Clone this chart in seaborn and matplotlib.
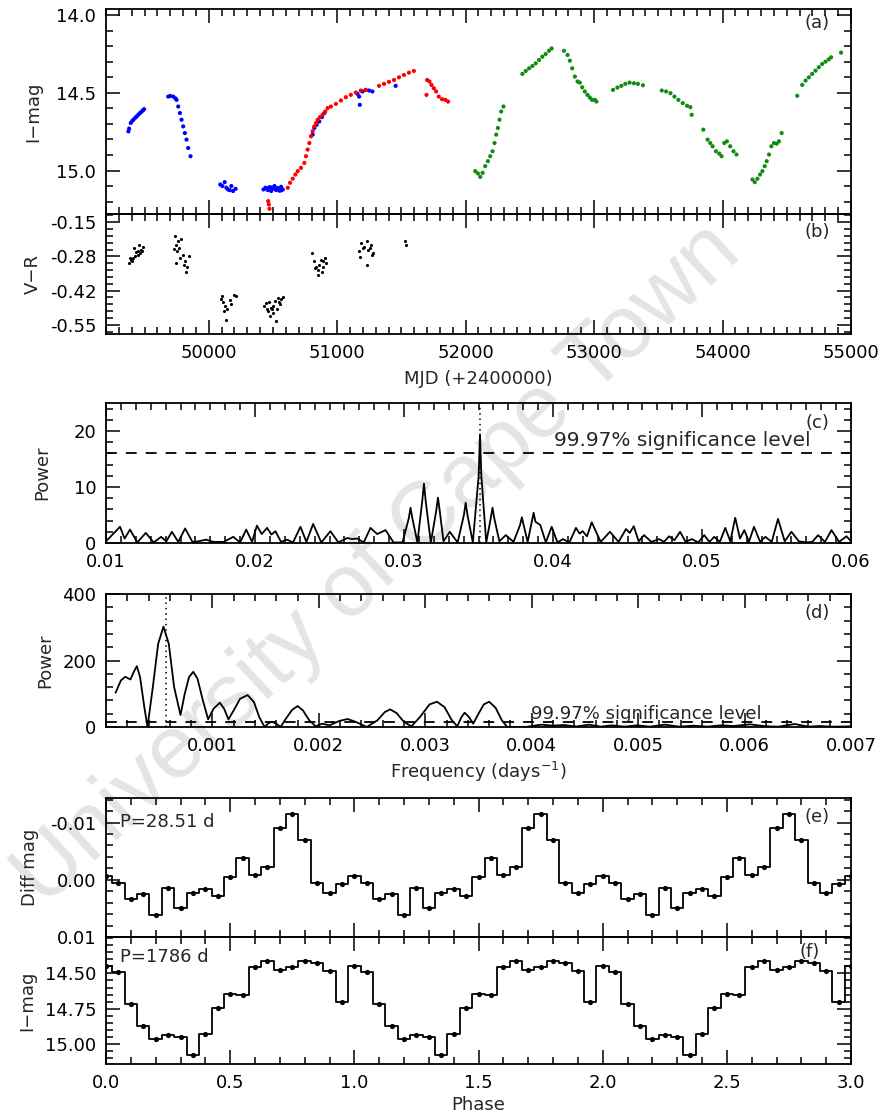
import numpy as np
import pandas as pd
import matplotlib
matplotlib.use("Agg")
import matplotlib.pyplot as plt
import seaborn as sns
from matplotlib.ticker import MultipleLocator, AutoMinorLocator, FixedLocator, FuncFormatter

sns.set_theme(style="white")
plt.rcParams['font.family'] = ['DejaVu Sans']
plt.rcParams['mathtext.fontset'] = 'dejavusans'

# ---------------- (a) I-band light curve ----------------
blue_mjd = [49374.6, 49392.7, 49413.4, 49439.2, 49465.1, 49496.1, 49380, 49405, 49428, 49452, 49478, 49488,
            49684.7, 49723.5, 49749.3, 49762.2, 49775.2, 49788.1, 49801.0, 49813.9, 49826.9, 49839.8, 49857.9, 49700, 49740,
            50090, 50106, 50124, 50137, 50150, 50163, 50176, 50189, 50209,
            50426.3, 50441.8, 50459.9, 50472.8, 50485.8, 50498.7, 50511.6, 50524.5, 50537.4, 50550.4, 50563.3, 50576.2,
            50450, 50490, 50530, 50565,
            50808.9, 50821.8, 50839.9, 50860.6, 50881.3, 50899.4, 51157.8, 51170.7, 51175.9, 51196.6, 51222.4,
            51248.2, 51274.1, 51454.9]
blue_mag = [14.748, 14.694, 14.673, 14.652, 14.630, 14.605, 14.730, 14.680, 14.660, 14.640, 14.620, 14.612,
            14.524, 14.524, 14.545, 14.588, 14.630, 14.673, 14.716, 14.759, 14.801, 14.855, 14.908, 14.520, 14.535,
            15.090, 15.100, 15.075, 15.111, 15.122, 15.126, 15.100, 15.132, 15.118,
            15.122, 15.111, 15.126, 15.107, 15.132, 15.118, 15.100, 15.126, 15.113, 15.130, 15.105, 15.122,
            15.115, 15.110, 15.118, 15.128,
            14.769, 14.726, 14.705, 14.684, 14.656, 14.630, 14.506, 14.524, 14.577, 14.491, 14.481,
            14.485, 14.491, 14.455]

red_mjd = [50462.5, 50467.7, 50472.8,
           50615.0, 50633.1, 50653.8, 50674.5, 50692.6, 50718.4, 50744.2, 50757.2, 50770.1, 50783.0, 50796.0,
           50808.9, 50821.8, 50834.8, 50847.7, 50865.8, 50886.5, 50907.2, 50925.2,
           50951.0, 50989.8, 51028.6, 51067.4, 51106.1, 51144.9, 51183.6, 51222.4,
           51325.8, 51364.5, 51403.3, 51442.0, 51480.8, 51519.6, 51558.4, 51597.1,
           51695.1, 51700.2, 51718.3, 51733.8, 51751.9, 51770.0, 51790.7, 51816.5, 51842.4, 51863.0]
red_mag = [15.197, 15.218, 15.246,
           15.111, 15.079, 15.053, 15.026, 15.004, 14.983, 14.951, 14.908, 14.865, 14.823, 14.780,
           14.748, 14.716, 14.694, 14.673, 14.656, 14.641, 14.620, 14.598,
           14.588, 14.571, 14.549, 14.528, 14.513, 14.498, 14.485, 14.481,
           14.455, 14.442, 14.429, 14.417, 14.400, 14.385, 14.370, 14.359,
           14.513, 14.417, 14.427, 14.449, 14.470, 14.491, 14.524, 14.541, 14.545, 14.556]

green_mjd = [52075.0, 52095.6, 52113.7, 52131.8, 52152.5, 52173.1, 52191.2, 52209.3, 52224.8, 52237.7, 52250.7, 52263.6, 52276.5, 52294.6,
             52441.9, 52467.7, 52493.5, 52519.4, 52545.2, 52571.1, 52596.9, 52622.7, 52648.6, 52669.3,
             52764.9, 52793.3, 52811.4, 52829.5, 52850.2, 52870.8, 52888.9, 52907.0, 52927.7, 52948.3, 52966.4, 52984.5, 53005.2, 53018.1,
             53147.3, 53180.9, 53211.9, 53242.9, 53276.5, 53310.1, 53341.1, 53379.9,
             53527.1, 53560.7, 53594.3, 53625.4, 53656.4, 53690.0, 53723.5, 53749.4, 53759.7,
             53850.2, 53883.7, 53904.4, 53922.5, 53948.3, 53974.2, 53992.3, 54012.9, 54033.6, 54059.5, 54085.3, 54108.6,
             54232.6, 54250.7, 54271.4, 54292.0, 54310.1, 54328.2, 54343.7, 54361.8, 54379.9, 54400.6, 54421.3, 54439.4, 54460.0,
             54581.4, 54620.2, 54646.0, 54671.9, 54697.7, 54723.5, 54749.4, 54775.2, 54801.0, 54826.9, 54845.0, 54922.5]
green_mag = [15.004, 15.019, 15.041, 15.015, 14.972, 14.940, 14.908, 14.876, 14.823, 14.769, 14.726, 14.673, 14.620, 14.588,
             14.378, 14.359, 14.342, 14.327, 14.310, 14.288, 14.267, 14.250, 14.229, 14.214,
             14.229, 14.256, 14.293, 14.342, 14.395, 14.427, 14.434, 14.464, 14.491, 14.513, 14.530, 14.545, 14.545, 14.556,
             14.481, 14.466, 14.455, 14.442, 14.434, 14.438, 14.442, 14.451,
             14.485, 14.491, 14.502, 14.524, 14.545, 14.566, 14.583, 14.592, 14.641,
             14.737, 14.801, 14.823, 14.844, 14.876, 14.891, 14.908, 14.823, 14.812, 14.844, 14.876, 14.897,
             15.058, 15.075, 15.053, 15.026, 15.004, 14.972, 14.940, 14.897, 14.844, 14.823, 14.827, 14.812, 14.759,
             14.519, 14.449, 14.421, 14.400, 14.378, 14.357, 14.335, 14.314, 14.299, 14.284, 14.271, 14.241]

# ---------------- (b) V-R colour ----------------
vr_mjd = [49376.2, 49393.6, 49411.1, 49428.6, 49446.1, 49463.6, 49481.0, 49419.9, 49454.8, 49472.3, 49402.4, 49437.3, 49489.8, 49384.9, 49450.5,
          49734.5, 49786.9, 49743.2, 49769.5, 49756.4, 49800.1, 49778.2, 49813.2, 49830.6, 49821.9, 49743.2, 49725.8, 49843.7, 49760.7, 49804.4,
          50092.8, 50110.3, 50127.8, 50145.3, 50105.9, 50162.8, 50193.4, 50215.2, 50119.1, 50136.5, 50171.5,
          50433.7, 50455.6, 50468.7, 50486.2, 50499.3, 50512.4, 50529.8, 50542.9, 50556.0, 50564.8, 50577.9, 50477.4, 50521.1, 50459.9, 50503.6, 50442.4, 50547.3, 50494.9,
          50805.2, 50818.3, 50835.7, 50848.9, 50862.0, 50879.4, 50892.6, 50905.7, 50914.4, 50848.9, 50870.7, 50827.0, 50888.2,
          51167.9, 51176.6, 51185.3, 51211.6, 51229.0, 51242.2, 51255.3, 51264.0, 51272.7, 51229.0, 51198.5, 51281.5,
          51530.6, 51535.0]
vr_val = [-0.310, -0.297, -0.290, -0.283, -0.277, -0.270, -0.263, -0.250, -0.237, -0.257, -0.303, -0.266, -0.247, -0.290, -0.261,
          -0.203, -0.217, -0.237, -0.250, -0.263, -0.277, -0.290, -0.303, -0.323, -0.343, -0.310, -0.253, -0.283, -0.223, -0.317,
          -0.450, -0.463, -0.477, -0.487, -0.437, -0.453, -0.434, -0.439, -0.497, -0.530, -0.470,
          -0.477, -0.490, -0.463, -0.483, -0.503, -0.457, -0.490, -0.447, -0.470, -0.450, -0.443, -0.517, -0.537, -0.497, -0.477, -0.466, -0.461, -0.490,
          -0.270, -0.303, -0.323, -0.337, -0.317, -0.343, -0.303, -0.290, -0.310, -0.357, -0.297, -0.330, -0.323,
          -0.263, -0.287, -0.230, -0.247, -0.223, -0.257, -0.250, -0.237, -0.277, -0.317, -0.250, -0.270,
          -0.223, -0.239]

# ---------------- (c) periodogram, short periods ----------------
freq_c = [0.0100, 0.01094, 0.01125, 0.01161, 0.01210, 0.01267, 0.01320, 0.01370, 0.01405, 0.01442, 0.01485, 0.01531,
          0.01580, 0.01620, 0.01672, 0.01720, 0.01790, 0.01854, 0.01900, 0.01941, 0.01980, 0.02013, 0.02045, 0.02081,
          0.02110, 0.02137, 0.02175, 0.02215, 0.02255, 0.02305, 0.02345, 0.02390, 0.02445, 0.02506, 0.02560, 0.02619,
          0.02650, 0.02686, 0.02730, 0.02775, 0.02820, 0.02876, 0.02930, 0.02990,
          0.03032, 0.03044, 0.03056, 0.03090, 0.03122, 0.03134, 0.03146, 0.03180,
          0.03216, 0.03228, 0.03240, 0.03265, 0.03307, 0.03360, 0.03402, 0.03414, 0.03426, 0.03462,
          0.03501, 0.03510, 0.03519, 0.03552, 0.03582, 0.03594, 0.03606, 0.03640, 0.03683, 0.03735,
          0.03779, 0.03791, 0.03803, 0.03830, 0.03858, 0.03870, 0.03882, 0.03915, 0.03952, 0.03991, 0.04030, 0.04067,
          0.04110, 0.04154, 0.04178, 0.04199,
          0.04228, 0.04260, 0.04320, 0.04382, 0.04440, 0.04490, 0.04515, 0.04542, 0.04575, 0.04611, 0.04660, 0.04712,
          0.04745, 0.04779, 0.04815, 0.04853, 0.04890, 0.04932, 0.04975, 0.05015, 0.05050, 0.05082, 0.05120, 0.05156,
          0.05190, 0.05223, 0.05255, 0.05284, 0.05315, 0.05349, 0.05390, 0.05425, 0.05468, 0.05510, 0.05555, 0.05600,
          0.05650, 0.05700, 0.05740, 0.05779, 0.05825, 0.05869, 0.05920, 0.05970, 0.06000]
power_c = [0.3, 2.9, 0.8, 2.4, 0.1, 1.8, 0.1, 1.1, 0.3, 2.0, 0.2, 2.6,
           0.2, 0.3, 0.6, 0.2, 0.2, 1.1, 0.1, 2.4, 0.2, 3.1, 1.6, 2.7,
           1.5, 2.1, 0.2, 0.6, 0.1, 2.9, 0.2, 3.4, 0.1, 2.1, 0.1, 0.9,
           0.7, 0.8, 0.1, 2.7, 1.6, 2.3, 0.1, 0.1,
           4.4, 6.3, 4.4, 0.1, 7.4, 10.6, 7.4, 0.1,
           5.7, 8.1, 5.7, 0.3, 2.0, 0.1, 5.0, 7.2, 5.0, 0.1,
           12.0, 19.4, 12.0, 0.1, 4.4, 6.3, 4.4, 0.3, 1.4, 0.2,
           3.2, 4.6, 3.2, 0.2, 3.8, 5.4, 3.8, 3.2, 0.1, 2.9, 0.1, 0.7,
           0.1, 2.7, 1.7, 2.1,
           1.2, 3.7, 0.2, 2.0, 0.2, 2.5, 1.8, 3.0, 0.3, 1.4, 0.2, 0.7,
           0.2, 1.2, 0.5, 2.0, 0.2, 0.7, 0.1, 1.4, 0.2, 1.1, 0.2, 2.7,
           0.3, 4.5, 0.8, 2.3, 0.2, 2.9, 0.2, 1.1, 0.2, 4.3, 0.3, 2.0,
           0.3, 0.1, 0.2, 1.4, 0.2, 2.3, 0.2, 1.2, 0.3]

# ---------------- (d) periodogram, long periods ----------------
freq_d = [0.00009, 0.00014, 0.00018, 0.00023, 0.00026, 0.00029, 0.00032, 0.00036, 0.00039, 0.00044, 0.00049, 0.00054,
          0.00059, 0.00064, 0.00070, 0.00074, 0.00078, 0.00082, 0.00086, 0.00091, 0.00096, 0.00101, 0.00107, 0.00111,
          0.00115, 0.00120, 0.00126, 0.00133, 0.00139, 0.00144, 0.00149, 0.00153, 0.00156, 0.00160, 0.00164, 0.00169,
          0.00175, 0.00180, 0.00185, 0.00191, 0.00197, 0.00203, 0.00210, 0.00219, 0.00227, 0.00235, 0.00245, 0.00255,
          0.00262, 0.00267, 0.00273, 0.00280, 0.00287, 0.00295, 0.00304, 0.00311, 0.00318, 0.00325, 0.00330, 0.00334,
          0.00337, 0.00341, 0.00345, 0.00350, 0.00355, 0.00360, 0.00366, 0.00372, 0.00377, 0.00395, 0.00409, 0.00420,
          0.00430, 0.00442, 0.00454, 0.00465, 0.00475, 0.00487, 0.00499, 0.00511, 0.00525, 0.00539, 0.00552, 0.00565,
          0.00578, 0.00590, 0.00605, 0.00620, 0.00632, 0.00647, 0.00660, 0.00670, 0.00682, 0.00700]
power_d = [103, 140, 151, 143, 165, 183, 150, 60, 0, 120, 250, 302,
           250, 120, 36, 100, 150, 166, 145, 80, 23, 55, 73, 55,
           23, 50, 85, 96, 75, 30, 0, 12, 16, 10, 0, 25,
           52, 63, 50, 20, 2, 10, 5, 18, 24, 15, 0, 20,
           45, 53, 42, 15, 2, 30, 68, 76, 60, 20, 2, 30,
           43, 30, 10, 40, 68, 76, 58, 20, 0, 0.5, 7, 4,
           6, 1.5, 7, 1, 5, 1, 5, 1, 7, 1, 4, 1,
           5, 3, 8, 2, 1, 9, 1, 3, 1, 2]

sig_level = 16.0
f_short = 1.0 / 28.51
f_long = 1.0 / 1786.0

# ---------------- (e), (f) folded light curves ----------------
phase_bins = [round(0.05 * k, 2) for k in range(61)]
diff_cycle = [-0.00064, 0.00058, 0.00335, 0.00249, 0.00624, 0.00139, 0.00491, 0.00225, 0.00162, 0.00277,
              -0.00046, -0.00376, -0.00087, -0.00231, -0.00908, -0.0115, -0.00694, 0.00064, 0.00237, 0.00081]
imag_cycle = [14.446, 14.493, 14.717, 14.873, 14.960, 14.932, 14.946, 15.075, 14.925, 14.741,
              14.646, 14.656, 14.453, 14.415, 14.476, 14.453, 14.410, 14.429, 14.481, 14.700]

diff_mag = (diff_cycle * 4)[:61]
imag_fold = (imag_cycle * 4)[:61]

# ---------------- figure ----------------
W, H = 884, 1120
fig = plt.figure(figsize=(W / 100, H / 100), dpi=100)
fig.patch.set_facecolor('white')

fig.text(378 / W, 1 - 565 / H, "University of Cape Town", rotation=43, color='#e4e4e4',
         fontsize=64, ha='center', va='center', zorder=-5, family=['Liberation Sans'])

TICK_FS = 13
TEXT_FS = 13


def add_panel(top, bottom):
    ax = fig.add_axes([106 / W, 1 - bottom / H, 745 / W, (bottom - top) / H])
    ax.set_facecolor('none')
    for s in ax.spines.values():
        s.set_linewidth(1.3)
        s.set_color('black')
    ax.tick_params(which='both', direction='in', top=True, right=True, bottom=True, left=True,
                   colors='black', labelsize=TICK_FS, width=1.1)
    ax.tick_params(which='major', length=10, pad=7)
    ax.tick_params(which='minor', length=5)
    ax.grid(False)
    return ax


def num_fmt(fmt):
    return FuncFormatter(lambda v, p: fmt % v)


# (a)
ax_a = add_panel(9, 214)
df_a = pd.DataFrame({
    'mjd': blue_mjd + red_mjd + green_mjd,
    'mag': blue_mag + red_mag + green_mag,
    'band': ['blue'] * len(blue_mjd) + ['red'] * len(red_mjd) + ['green'] * len(green_mjd),
})
sns.scatterplot(data=df_a, x='mjd', y='mag', hue='band',
                palette={'blue': '#0000ff', 'red': '#ff0000', 'green': '#118c11'},
                s=9, linewidth=0, legend=False, ax=ax_a)
ax_a.set_xlim(49200, 55000)
ax_a.set_ylim(15.28, 13.96)
ax_a.xaxis.set_major_locator(MultipleLocator(1000))
ax_a.xaxis.set_minor_locator(MultipleLocator(100))
ax_a.yaxis.set_major_locator(MultipleLocator(0.5))
ax_a.yaxis.set_minor_locator(MultipleLocator(0.1))
ax_a.yaxis.set_major_formatter(num_fmt('%.1f'))
ax_a.set_xticklabels([])
ax_a.set_xlabel('')
ax_a.set_ylabel('I\u2212mag', labelpad=10, fontsize=TEXT_FS)
ax_a.text(0.955, 0.93, '(a)', transform=ax_a.transAxes, ha='center', va='center', fontsize=TEXT_FS)

# (b)
ax_b = add_panel(214, 334)
df_b = pd.DataFrame({'mjd': vr_mjd, 'vr': vr_val})
sns.scatterplot(data=df_b, x='mjd', y='vr', color='black', s=5, linewidth=0, ax=ax_b)
ax_b.set_xlim(49200, 55000)
ax_b.set_ylim(-0.586, -0.118)
vr_ticks = [-0.55, -0.55 + 0.4 / 3, -0.55 + 0.8 / 3, -0.15]
ax_b.yaxis.set_major_locator(FixedLocator(vr_ticks))
ax_b.yaxis.set_minor_locator(AutoMinorLocator(5))
ax_b.yaxis.set_major_formatter(num_fmt('%.2f'))
ax_b.xaxis.set_major_locator(MultipleLocator(1000))
ax_b.xaxis.set_minor_locator(MultipleLocator(100))
ax_b.xaxis.set_major_formatter(num_fmt('%d'))
ax_b.set_xlabel('MJD (+2400000)', labelpad=6, fontsize=TEXT_FS)
ax_b.set_ylabel('V\u2212R', labelpad=6, fontsize=TEXT_FS)
ax_b.text(0.955, 0.85, '(b)', transform=ax_b.transAxes, ha='center', va='center', fontsize=TEXT_FS)

# (c)
ax_c = add_panel(403, 543)
sns.lineplot(x=freq_c, y=power_c, color='black', linewidth=1.3, estimator=None, ax=ax_c)
ax_c.axhline(sig_level, color='black', linestyle=(0, (6, 5)), linewidth=1.3)
ax_c.axvline(f_short, color='black', linestyle=(0, (1, 2.5)), linewidth=1.1)
ax_c.set_xlim(0.01, 0.06)
ax_c.set_ylim(0, 25)
ax_c.xaxis.set_major_locator(MultipleLocator(0.01))
ax_c.xaxis.set_minor_locator(AutoMinorLocator(10))
ax_c.xaxis.set_major_formatter(num_fmt('%.2f'))
ax_c.yaxis.set_major_locator(MultipleLocator(10))
ax_c.yaxis.set_minor_locator(MultipleLocator(2))
ax_c.set_ylabel('Power', labelpad=16, fontsize=TEXT_FS)
ax_c.text(0.04006, 18.3, '99.97% significance level', ha='left', va='center', fontsize=14.5)
ax_c.text(0.955, 0.86, '(c)', transform=ax_c.transAxes, ha='center', va='center', fontsize=TEXT_FS)

# (d)
ax_d = add_panel(594, 727)
sns.lineplot(x=freq_d, y=power_d, color='black', linewidth=1.3, estimator=None, ax=ax_d)
ax_d.axhline(sig_level, color='black', linestyle=(0, (6, 5)), linewidth=1.3)
ax_d.axvline(f_long, color='black', linestyle=(0, (1, 2.5)), linewidth=1.1)
ax_d.set_xlim(0.0, 0.007)
ax_d.set_ylim(0, 400)
ax_d.xaxis.set_major_locator(FixedLocator([0.001, 0.002, 0.003, 0.004, 0.005, 0.006, 0.007]))
ax_d.xaxis.set_minor_locator(MultipleLocator(0.0002))
ax_d.xaxis.set_major_formatter(num_fmt('%.3f'))
ax_d.yaxis.set_major_locator(MultipleLocator(200))
ax_d.yaxis.set_minor_locator(MultipleLocator(40))
ax_d.set_xlabel('Frequency (days$^{-1}$)', labelpad=4, fontsize=TEXT_FS)
ax_d.set_ylabel('Power', labelpad=6, fontsize=TEXT_FS)
ax_d.text(0.00399, 39, '99.97% significance level', ha='left', va='center', fontsize=13)
ax_d.text(0.955, 0.86, '(d)', transform=ax_d.transAxes, ha='center', va='center', fontsize=TEXT_FS)

# (e)
ax_e = add_panel(798, 937)
sns.lineplot(x=phase_bins, y=diff_mag, color='black', linewidth=1.3, estimator=None,
             drawstyle='steps-mid', ax=ax_e)
sns.scatterplot(x=phase_bins, y=diff_mag, color='black', s=14, linewidth=0, ax=ax_e)
ax_e.set_xlim(0, 3)
ax_e.set_ylim(0.0100, -0.0143)
ax_e.xaxis.set_major_locator(MultipleLocator(0.5))
ax_e.xaxis.set_minor_locator(MultipleLocator(0.1))
ax_e.set_xticklabels([])
ax_e.yaxis.set_major_locator(MultipleLocator(0.01))
ax_e.yaxis.set_minor_locator(MultipleLocator(0.002))
ax_e.yaxis.set_major_formatter(num_fmt('%.2f'))
ax_e.set_ylabel('Diff mag', labelpad=8, fontsize=TEXT_FS)
ax_e.text(120 / W, 1 - 822 / H, 'P=28.51 d', transform=fig.transFigure, ha='left', va='center', fontsize=TEXT_FS)
ax_e.text(0.955, 0.86, '(e)', transform=ax_e.transAxes, ha='center', va='center', fontsize=TEXT_FS)

# (f)
ax_f = add_panel(937, 1064)
sns.lineplot(x=phase_bins, y=imag_fold, color='black', linewidth=1.3, estimator=None,
             drawstyle='steps-mid', ax=ax_f)
sns.scatterplot(x=phase_bins, y=imag_fold, color='black', s=14, linewidth=0, ax=ax_f)
ax_f.set_xlim(0, 3)
ax_f.set_ylim(15.14, 14.243)
ax_f.xaxis.set_major_locator(MultipleLocator(0.5))
ax_f.xaxis.set_minor_locator(MultipleLocator(0.1))
ax_f.xaxis.set_major_formatter(num_fmt('%.1f'))
ax_f.yaxis.set_major_locator(FixedLocator([14.5, 14.75, 15.0]))
ax_f.yaxis.set_minor_locator(MultipleLocator(0.05))
ax_f.yaxis.set_major_formatter(num_fmt('%.2f'))
ax_f.set_xlabel('Phase', labelpad=3, fontsize=TEXT_FS)
ax_f.set_ylabel('I\u2212mag', labelpad=6, fontsize=TEXT_FS)
ax_f.text(120 / W, 1 - 957 / H, 'P=1786 d', transform=fig.transFigure, ha='left', va='center', fontsize=TEXT_FS)
ax_f.text(0.945, 0.88, '(f)', transform=ax_f.transAxes, ha='center', va='center', fontsize=TEXT_FS)

fig.savefig('out.png', dpi=100, facecolor='white')
